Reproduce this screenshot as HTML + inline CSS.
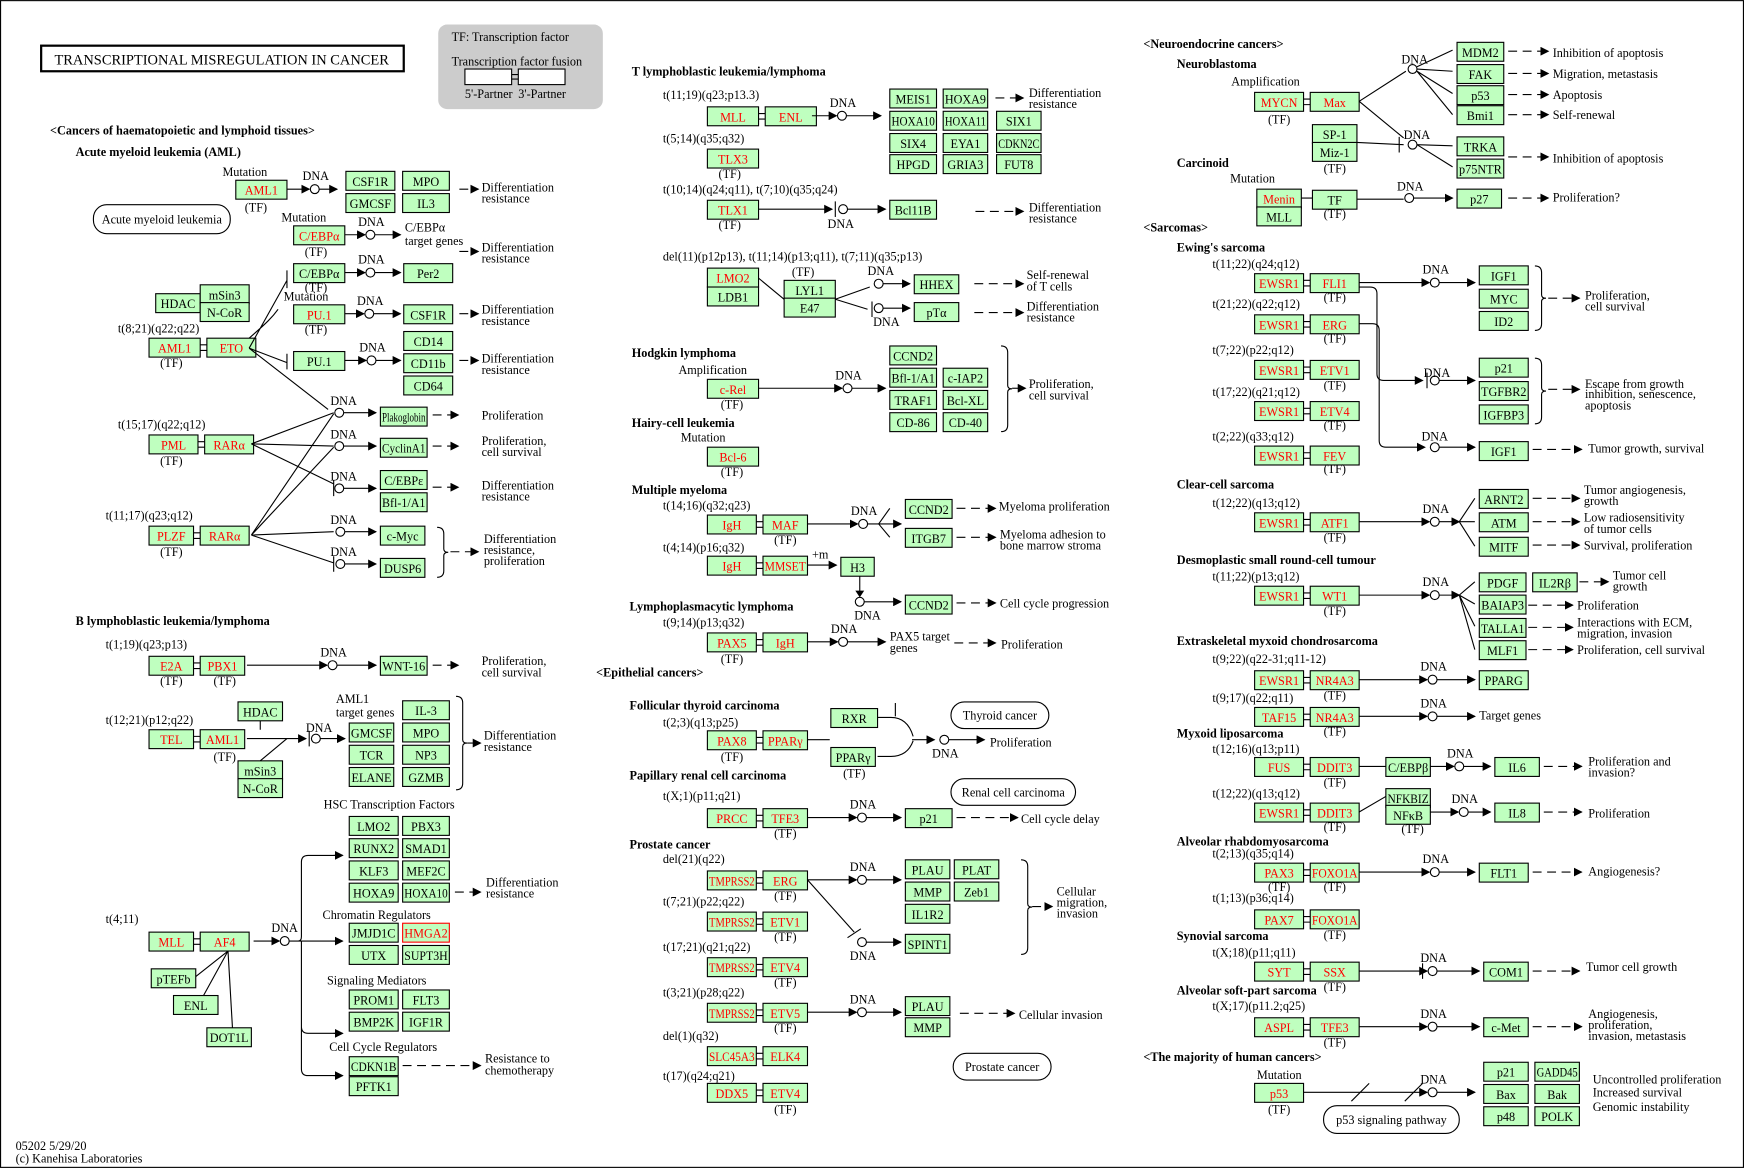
<!DOCTYPE html>
<html><head><meta charset="utf-8">
<style>
html,body{margin:0;padding:0;background:#fff;}
svg{display:block;}
text{font-family:"Liberation Serif",serif;font-size:11px;fill:#000;}
.b{font-weight:bold;}
</style></head>
<body>
<svg id="s" width="1744" height="1168" viewBox="0 0 1568 1050" xmlns="http://www.w3.org/2000/svg">
<defs><marker id="a" markerWidth="8" markerHeight="8" refX="7" refY="4" orient="auto" markerUnits="userSpaceOnUse"><path d="M0,0L8,4L0,8z" fill="#000"/></marker></defs>
<rect x="0.5" y="0.5" width="1567" height="1049" fill="#fff" stroke="#000"/>
<g id="g"></g>
</svg>
<script>
var g=document.getElementById('g'),NS='http://www.w3.org/2000/svg',H=17;
function el(n,a,t){var e=document.createElementNS(NS,n);for(var k in a)e.setAttribute(k,a[k]);if(t!=null)e.textContent=t;g.appendChild(e);return e;}
function T(x,y,s,c){var a={x:x,y:y};if(c)a['class']=c;return el('text',a,s);}
function B(x,y,w,t,r){el('rect',{x:x,y:y,width:w,height:H,fill:'#bfffbf',stroke:r==2?'#f00':'#000','stroke-width':1});var e=el('text',{x:x+w/2,y:y+13,'text-anchor':'middle'},t);if(r)e.style.fill='#f00';
 try{var l=e.getComputedTextLength();if(l>w-3){e.setAttribute('textLength',w-3);e.setAttribute('lengthAdjust','spacingAndGlyphs');}}catch(z){}}
function F(x,y,a,b,w1,w2){w1=w1||44;w2=w2||44;B(x,y,w1,a,1);B(x+w1+6,y,w2,b,1);el('path',{d:'M'+(x+w1)+','+(y+6)+'h6M'+(x+w1)+','+(y+11)+'h6',stroke:'#000',fill:'none'});}
function L(x1,y1,x2,y2,arr,dash){var a={x1:x1,y1:y1,x2:x2,y2:y2,stroke:'#000'};if(arr)a['marker-end']='url(#a)';if(dash)a['stroke-dasharray']='8,5';el('line',a);}
function C(x,y){el('circle',{cx:x,cy:y,r:4,fill:'#fff',stroke:'#000'});}
function D(x1,y,x2){L(x1,y,x2,y,1,1);}
function P(d){el('path',{d:d,stroke:'#000',fill:'none'});}
function R(x,y,w,h,t){el('rect',{x:x,y:y,width:w,height:h,rx:12,fill:'#fff',stroke:'#000'});T(x+w/2,y+h/2+4,t).setAttribute('text-anchor','middle');}
function br(x,y1,y2){P('M'+x+','+y1+'q6,0 6,6V'+((y1+y2)/2-3)+'q0,3 4,3q-4,0 -4,3V'+(y2-6)+'q0,6 -6,6');}
function ch(x1,y,cx,x2,lbl,ly){L(x1,y,cx-5,y,1);C(cx,y);L(cx+4,y,x2,y,1);T(cx-11,ly||y-8,'DNA');}

el('rect',{x:37,y:41,width:326,height:23,fill:'#fff',stroke:'#000','stroke-width':2});
T(49,58,'TRANSCRIPTIONAL MISREGULATION  IN  CANCER').style.fontSize='13px';
el('rect',{x:394,y:22,width:148,height:76,rx:8,fill:'#ccc'});
T(406,37,'TF: Transcription factor');T(406,59,'Transcription factor fusion');
el('rect',{x:418,y:62,width:42,height:14,fill:'#fff',stroke:'#000'});el('rect',{x:466,y:62,width:42,height:14,fill:'#fff',stroke:'#000'});
P('M460,67h6M460,71h6');T(418,88,"5'-Partner");T(466,88,"3'-Partner");

T(45,121,'<Cancers of haematopoietic and lymphoid tissues>','b');
T(68,140,'Acute myeloid leukemia (AML)','b');
T(200,158,'Mutation');B(212,162,46,'AML1',1);T(220,190,'(TF)');
ch(258,170,283,303);B(311,154,44,'CSF1R');B(362,154,42,'MPO');B(311,174,44,'GMCSF');B(362,174,42,'IL3');
D(413,170,430);T(433,172,'Differentiation');T(433,182,'resistance');
R(84,184,123,26,'Acute myeloid leukemia');
T(253,199,'Mutation');B(264,203,46,'C/EBPα',1);T(274,230,'(TF)');ch(310,211,333,360);
T(364,208,'C/EBPα');T(364,220,'target genes');D(413,226,430);T(433,226,'Differentiation');T(433,236,'resistance');
B(264,237,46,'C/EBPα');T(274,262,'(TF)');ch(310,245,333,360);B(363,237,44,'Per2');
B(140,264,40,'HDAC');B(180,256,44,'mSin3');B(180,272,44,'N-CoR');
T(255,270,'Mutation');B(264,274,46,'PU.1',1);T(274,300,'(TF)');ch(310,282,332,360);B(363,274,44,'CSF1R');
D(413,282,430);T(433,282,'Differentiation');T(433,292,'resistance');
T(106,299,'t(8;21)(q22;q22)');F(134,304,'AML1','ETO',46,44);T(144,330,'(TF)');
B(264,316,46,'PU.1');ch(310,324,334,360);B(363,298,44,'CD14');B(363,318,44,'CD11b');B(363,338,44,'CD64');
D(413,324,430);T(433,326,'Differentiation');T(433,336,'resistance');
P('M224,313L258,326M258,318v14M224,313L258,252M258,243v16M224,313L295,368M224,304 C240,290 245,285 250,278');
T(297,364,'DNA');C(305,371);L(309,371,338,371,1);B(342,366,42,'Plakoglobin');D(389,373,412);T(433,377,'Proliferation');
T(106,385,'t(15;17)(q22;q12)');F(134,391,'PML','RARα');T(144,418,'(TF)');
T(297,394,'DNA');C(305,401);L(309,401,338,401,1);B(342,394,42,'CyclinA1');D(389,401,412);T(433,400,'Proliferation,');T(433,410,'cell survival');
T(297,432,'DNA');C(305,439);L(309,439,338,439,1);B(342,423,42,'C/EBPε');B(342,443,42,'Bfl-1/A1');D(389,438,412);T(433,440,'Differentiation');T(433,450,'resistance');
T(95,467,'t(11;17)(q23;q12)');F(134,473,'PLZF','RARα',40,44);T(144,500,'(TF)');
T(297,471,'DNA');C(306,478);L(310,478,338,478,1);B(342,473,40,'c-Myc');
T(297,500,'DNA');C(306,507);L(310,507,338,507,1);B(342,502,40,'DUSP6');br(393,474,519);D(405,496,430);
T(435,488,'Differentiation');T(435,498,'resistance,');T(435,508,'proliferation');
P('M226,399L300,371M226,399L300,401M226,399L300,435M226,481L300,372M226,481L300,402M226,481L300,478M226,481L300,506');
P('M300,432v14M300,500v14');

T(68,562,'B lymphoblastic leukemia/lymphoma','b');
T(95,583,'t(1;19)(q23;p13)');F(134,590,'E2A','PBX1',40,40);T(144,616,'(TF)');T(192,616,'(TF)');
ch(222,598,299,338);B(342,590,42,'WNT-16');D(389,598,412);T(433,598,'Proliferation,');T(433,608,'cell survival');
B(214,631,40,'HDAC');T(302,632,'AML1');T(302,644,'target genes');B(362,630,42,'IL-3');
T(95,651,'t(12;21)(p12;q22)');B(314,650,40,'GMCSF');B(362,650,42,'MPO');
F(134,656,'TEL','AML1',40,40);T(192,684,'(TF)');L(222,664,275,664,1);C(284,664);L(288,664,310,664,1);T(275,658,'DNA');
P('M278,657v14');B(314,670,40,'TCR');B(362,670,42,'NP3');B(314,690,40,'ELANE');B(362,690,42,'GZMB');
B(214,684,40,'mSin3');B(214,700,40,'N-CoR');br(410,626,710);D(420,668,432);T(435,665,'Differentiation');T(435,675,'resistance');
P('M234,648V656M234,684L258,664');
T(291,727,'HSC Transcription Factors');
B(314,734,44,'LMO2');B(362,734,42,'PBX3');B(314,754,44,'RUNX2');B(362,754,42,'SMAD1');B(314,774,44,'KLF3');B(362,774,42,'MEF2C');B(314,794,44,'HOXA9');B(362,794,42,'HOXA10');
D(409,802,432);T(437,797,'Differentiation');T(437,807,'resistance');
T(290,826,'Chromatin Regulators');B(314,830,44,'JMJD1C');B(362,830,42,'HMGA2',2);B(314,850,44,'UTX');B(362,850,42,'SUPT3H');
T(294,885,'Signaling Mediators');B(314,890,44,'PROM1');B(362,890,42,'FLT3');B(314,910,44,'BMP2K');B(362,910,42,'IGF1R');
T(296,945,'Cell Cycle Regulators');B(314,950,44,'CDKN1B');B(314,968,44,'PFTK1');D(362,958,432);T(436,955,'Resistance to');T(436,966,'chemotherapy');
T(95,830,'t(4;11)');F(134,838,'MLL','AF4',40,44);B(136,871,40,'pTEFb');B(156,895,40,'ENL');B(186,924,40,'DOT1L');
P('M205,855L176,878M205,855L183,895M205,855L209,924');
T(244,838,'DNA');L(228,846,251,846,1);C(256,846);P('M260,846h8q3,0 3,-4V775q0,-6 6,-6h24M268,846h40M271,846V923q0,6 6,6h24M271,923V961q0,6 6,6h24');
L(300,769,308,769,1);L(300,846,308,846,1);L(300,929,308,929,1);L(300,967,308,967,1);

T(14,1034,'05202 5/29/20');T(14,1045,'(c) Kanehisa Laboratories');

T(568,68,'T lymphoblastic leukemia/lymphoma','b');
T(596,89,'t(11;19)(q23;p13.3)');F(636,96,'MLL','ENL',46,46);ch(730,104,757,792);
B(800,80,42,'MEIS1');B(848,80,40,'HOXA9');B(800,100,42,'HOXA10');B(848,100,40,'HOXA11');B(896,100,40,'SIX1');
B(800,120,42,'SIX4');B(848,120,40,'EYA1');B(896,120,40,'CDKN2C');B(800,139,42,'HPGD');B(848,139,40,'GRIA3');B(896,139,40,'FUT8');
D(895,88,920);T(925,87,'Differentiation');T(925,97,'resistance');
T(596,128,'t(5;14)(q35;q32)');B(636,134,46,'TLX3',1);T(646,160,'(TF)');
T(596,174,'t(10;14)(q24;q11), t(7;10)(q35;q24)');B(636,180,46,'TLX1',1);T(646,206,'(TF)');
L(682,188,748,188,1);P('M751,181v14');C(758,188);L(762,188,796,188,1);T(744,205,'DNA');B(800,180,42,'Bcl11B');
D(877,190,920);T(925,190,'Differentiation');T(925,200,'resistance');
T(596,234,'del(11)(p12p13), t(11;14)(p13;q11), t(7;11)(q35;p13)');
B(636,241,46,'LMO2',1);B(636,258,46,'LDB1');T(712,248,'(TF)');B(705,252,46,'LYL1');B(705,268,46,'E47');P('M682,250L705,269');
P('M751,269L782,258M751,269L780,278M784,271v14');C(790,255);C(790,277);L(794,255,818,255,1);L(794,277,818,277,1);
T(780,247,'DNA');T(785,293,'DNA');B(822,247,40,'HHEX');B(822,272,40,'pTα');
D(876,255,920);D(876,281,920);T(923,251,'Self-renewal');T(923,261,'of T cells');T(923,279,'Differentiation');T(923,289,'resistance');
T(568,321,'Hodgkin lymphoma','b');T(610,336,'Amplification');B(636,341,46,'c-Rel',1);T(648,367,'(TF)');
ch(682,349,762,796);B(800,311,42,'CCND2');B(800,331,42,'Bfl-1/A1');B(848,331,40,'c-IAP2');B(800,351,42,'TRAF1');B(848,351,40,'Bcl-XL');B(800,371,42,'CD-86');B(848,371,40,'CD-40');
br(900,311,388);D(910,349,922);T(925,349,'Proliferation,');T(925,359,'cell survival');
T(568,384,'Hairy-cell leukemia','b');T(612,397,'Mutation');B(636,402,46,'Bcl-6',1);T(648,428,'(TF)');
T(568,444,'Multiple myeloma','b');T(596,458,'t(14;16)(q32;q23)');F(636,463,'IgH','MAF',44,40);T(696,489,'(TF)');
ch(726,471,776,810);B(814,449,42,'CCND2');B(814,475,42,'ITGB7');L(790,471,800,457);L(790,471,800,483);
D(860,457,895);D(860,483,895);T(898,459,'Myeloma proliferation');T(899,484,'Myeloma adhesion to');T(899,494,'bone marrow stroma');
T(596,496,'t(4;14)(p16;q32)');F(636,500,'IgH','MMSET',44,40);T(730,502,'+m');L(726,508,752,508,1);B(756,501,30,'H3');
P('M773,518V533');el('path',{d:'M769,531h8l-4,6z',fill:'#000'});C(773,541);T(768,557,'DNA');L(777,541,810,541,1);B(814,535,42,'CCND2');D(860,542,895);T(899,546,'Cell cycle progression');
T(566,549,'Lymphoplasmacytic lymphoma','b');T(596,563,'t(9;14)(p13;q32)');F(636,569,'PAX5','IgH',44,40);T(648,596,'(TF)');
ch(726,577,758,796);T(800,576,'PAX5 target');T(800,586,'genes');D(858,578,895);T(900,583,'Proliferation');
T(536,608,'<Epithelial cancers>','b');
T(566,638,'Follicular thyroid carcinoma','b');T(596,653,'t(2;3)(q13;p25)');F(636,657,'PAX8','PPARγ',44,40);T(648,684,'(TF)');
B(747,637,42,'RXR');B(747,672,40,'PPARγ');T(758,699,'(TF)');P('M726,665h20M789,645h12q15,0 20,17M789,680h12q15,0 20,-14');
P('M805,632v12');L(820,665,840,665,1);C(849,665);T(838,681,'DNA');L(853,665,885,665,1);T(890,671,'Proliferation');
R(855,631,88,24,'Thyroid cancer');
T(566,701,'Papillary renal cell carcinoma','b');R(855,700,112,24,'Renal cell carcinoma');
T(596,719,'t(X;1)(p11;q21)');F(636,727,'PRCC','TFE3',44,40);T(696,753,'(TF)');ch(726,735,775,810);B(814,727,42,'p21');D(860,735,915);T(918,740,'Cell cycle delay');
T(566,763,'Prostate cancer','b');T(596,776,'del(21)(q22)');F(636,783,'TMPRSS2','ERG',44,40);T(696,809,'(TF)');
ch(726,791,775,810);B(814,773,40,'PLAU');B(858,773,40,'PLAT');B(814,793,40,'MMP');B(858,793,40,'Zeb1');B(814,813,40,'IL1R2');
P('M726,791L768,838M762,843l12,-8');C(775,847);T(764,863,'DNA');L(779,847,810,847,1);B(814,840,40,'SPINT1');
br(918,773,858);D(928,815,946);T(950,805,'Cellular');T(950,815,'migration,');T(950,825,'invasion');
T(596,814,'t(7;21)(p22;q22)');F(636,820,'TMPRSS2','ETV1',44,40);T(696,846,'(TF)');
T(596,855,'t(17;21)(q21;q22)');F(636,861,'TMPRSS2','ETV4',44,40);T(696,887,'(TF)');
T(596,896,'t(3;21)(p28;q22)');F(636,902,'TMPRSS2','ETV5',44,40);T(696,928,'(TF)');
ch(726,910,775,810);B(814,896,40,'PLAU');B(814,915,40,'MMP');D(863,911,912);T(916,916,'Cellular invasion');
T(596,935,'del(1)(q32)');F(636,941,'SLC45A3','ELK4',44,40);R(857,947,88,24,'Prostate cancer');
T(596,971,'t(17)(q24;q21)');F(636,974,'DDX5','ETV4',44,40);T(696,1001,'(TF)');

T(1028,43,'<Neuroendocrine cancers>','b');T(1058,61,'Neuroblastoma','b');T(1107,77,'Amplification');
F(1128,83,'MYCN','Max',44,44);T(1140,111,'(TF)');
P('M1222,91L1264,64M1222,91L1262,124');C(1270,62);T(1260,57,'DNA');P('M1274,60L1306,45M1274,62L1306,64M1274,64L1306,84M1274,64L1306,103');
B(1310,38,42,'MDM2');B(1310,58,42,'FAK');B(1310,77,42,'p53');B(1310,95,42,'Bmi1');
D(1356,46,1392);D(1356,66,1392);D(1356,85,1392);D(1356,103,1392);
T(1396,51,'Inhibition of apoptosis');T(1396,70,'Migration, metastasis');T(1396,89,'Apoptosis');T(1396,107,'Self-renewal');
B(1180,112,40,'SP-1');B(1180,128,40,'Miz-1');T(1190,155,'(TF)');P('M1220,128L1262,130M1258,123v14');C(1270,130);T(1262,125,'DNA');
P('M1274,130L1306,131M1274,130L1306,150');B(1310,123,42,'TRKA');B(1310,143,42,'p75NTR');D(1356,141,1392);T(1396,146,'Inhibition of apoptosis');
T(1058,150,'Carcinoid','b');T(1106,164,'Mutation');B(1130,170,40,'Menin',1);B(1130,186,40,'MLL');B(1180,171,40,'TF');T(1190,196,'(TF)');
P('M1170,178h10M1220,179L1262,179');C(1267,178);T(1256,171,'DNA');L(1271,178,1306,178,1);B(1310,170,40,'p27');D(1356,178,1392);T(1396,181,'Proliferation?');
T(1028,208,'<Sarcomas>','b');T(1058,226,"Ewing's sarcoma",'b');
T(1090,241,'t(11;22)(q24;q12)');F(1128,246,'EWSR1','FLI1');T(1190,271,'(TF)');
T(1090,277,'t(21;22)(q22;q12)');F(1128,283,'EWSR1','ERG');T(1190,308,'(TF)');
T(1090,318,'t(7;22)(p22;q12)');F(1128,324,'EWSR1','ETV1');T(1190,350,'(TF)');
T(1090,356,'t(17;22)(q21;q12)');F(1128,361,'EWSR1','ETV4');T(1190,386,'(TF)');
T(1090,396,'t(2;22)(q33;q12)');F(1128,401,'EWSR1','FEV');T(1190,425,'(TF)');
ch(1222,254,1290,1326);B(1330,239,44,'IGF1');B(1330,260,44,'MYC');B(1330,280,44,'ID2');br(1380,239,297);D(1392,268,1420);T(1425,269,'Proliferation,');T(1425,279,'cell survival');
P('M1222,258h10q6,0 6,6V336q0,6 6,6h34');el('path',{d:'M1280,342l-8,-4v8z',fill:'#000'});P('M1283,335v14');C(1290,342);T(1280,339,'DNA');L(1294,342,1326,342,1);
B(1330,322,44,'p21');B(1330,343,44,'TGFBR2');B(1330,364,44,'IGFBP3');br(1380,322,381);D(1392,350,1420);T(1425,349,'Escape from growth');T(1425,358,'inhibition, senescence,');T(1425,368,'apoptosis');
P('M1222,291h12q6,0 6,6V396q0,6 6,6h34');el('path',{d:'M1282,402l-8,-4v8z',fill:'#000'});C(1290,402);T(1278,396,'DNA');L(1294,402,1326,402,1);B(1330,397,44,'IGF1');D(1378,404,1422);T(1428,407,'Tumor growth, survival');
T(1058,439,'Clear-cell sarcoma','b');T(1090,456,'t(12;22)(q13;q12)');F(1128,461,'EWSR1','ATF1');T(1190,487,'(TF)');
ch(1222,469,1290,1312);P('M1312,469L1326,448M1312,469h14M1312,469L1326,491');
B(1330,440,44,'ARNT2');B(1330,461,44,'ATM');B(1330,483,44,'MITF');D(1378,448,1420);D(1378,469,1420);D(1378,490,1420);
T(1424,444,'Tumor angiogenesis,');T(1424,454,'growth');T(1424,469,'Low radiosensitivity');T(1424,479,'of tumor cells');T(1424,494,'Survival, proliferation');
T(1058,507,'Desmoplastic small round-cell tumour','b');T(1090,522,'t(11;22)(p13;q12)');F(1128,527,'EWSR1','WT1');T(1190,553,'(TF)');
ch(1222,535,1290,1312);P('M1312,535L1326,523M1312,535L1326,543M1312,535L1326,563M1312,535L1326,584');
B(1330,515,42,'PDGF');B(1378,515,40,'IL2Rβ');B(1330,535,42,'BAIAP3');B(1330,556,42,'TALLA1');B(1330,576,42,'MLF1');
D(1420,523,1446);T(1450,521,'Tumor cell');T(1450,531,'growth');D(1374,544,1414);T(1418,548,'Proliferation');D(1374,564,1414);T(1418,563,'Interactions with ECM,');T(1418,573,'migration, invasion');D(1374,584,1414);T(1418,588,'Proliferation, cell survival');
T(1058,580,'Extraskeletal myxoid chondrosarcoma','b');T(1090,596,'t(9;22)(q22-31;q11-12)');F(1128,603,'EWSR1','NR4A3');T(1190,629,'(TF)');
ch(1222,611,1288,1326);B(1330,603,44,'PPARG');
T(1090,631,'t(9;17)(q22;q11)');F(1128,636,'TAF15','NR4A3');T(1190,661,'(TF)');ch(1222,644,1288,1326);T(1330,647,'Target genes');
T(1058,663,'Myxoid liposarcoma','b');T(1090,677,'t(12;16)(q13;p11)');F(1128,681,'FUS','DDIT3');T(1190,707,'(TF)');
L(1222,689,1246,689);B(1246,681,40,'C/EBPβ');ch(1286,689,1312,1340);B(1344,681,40,'IL6');D(1388,689,1422);T(1428,688,'Proliferation and');T(1428,698,'invasion?');
T(1090,717,'t(12;22)(q13;q12)');F(1128,722,'EWSR1','DDIT3');T(1190,747,'(TF)');
P('M1222,730L1246,716');B(1246,709,40,'NFKBIZ');B(1246,724,40,'NFκB');T(1260,749,'(TF)');ch(1286,730,1316,1340);B(1344,722,40,'IL8');D(1388,730,1422);T(1428,735,'Proliferation');
T(1058,760,'Alveolar rhabdomyosarcoma','b');T(1090,771,'t(2;13)(q35;q14)');F(1128,776,'PAX3','FOXO1A');T(1140,801,'(TF)');T(1190,801,'(TF)');
ch(1222,784,1290,1326);B(1330,776,44,'FLT1');D(1378,784,1422);T(1428,787,'Angiogenesis?');
T(1090,811,'t(1;13)(p36;q14)');F(1128,818,'PAX7','FOXO1A');T(1190,844,'(TF)');
T(1058,845,'Synovial sarcoma','b');T(1090,860,'t(X;18)(p11;q11)');F(1128,865,'SYT','SSX');T(1190,891,'(TF)');
ch(1222,873,1288,1330);P('M1279,866v14');B(1334,865,40,'COM1');D(1378,873,1420);T(1426,873,'Tumor cell growth');
T(1058,894,'Alveolar soft-part sarcoma','b');T(1090,908,'t(X;17)(p11.2;q25)');F(1128,915,'ASPL','TFE3');T(1190,941,'(TF)');
ch(1222,923,1288,1330);B(1334,915,40,'c-Met');D(1378,923,1422);T(1428,915,'Angiogenesis,');T(1428,925,'proliferation,');T(1428,935,'invasion, metastasis');
T(1028,954,'<The majority of human cancers>','b');T(1130,970,'Mutation');B(1128,974,44,'p53',1);T(1140,1001,'(TF)');
ch(1172,982,1288,1326);P('M1215,990l16,-16M1263,990l16,-16');
B(1334,955,40,'p21');B(1380,955,40,'GADD45');B(1334,975,40,'Bax');B(1380,975,40,'Bak');B(1334,995,40,'p48');B(1380,995,40,'POLK');
T(1432,974,'Uncontrolled proliferation');T(1432,986,'Increased survival');T(1432,999,'Genomic instability');
R(1190,994,122,25,'p53 signaling pathway');
</script>
</body></html>
